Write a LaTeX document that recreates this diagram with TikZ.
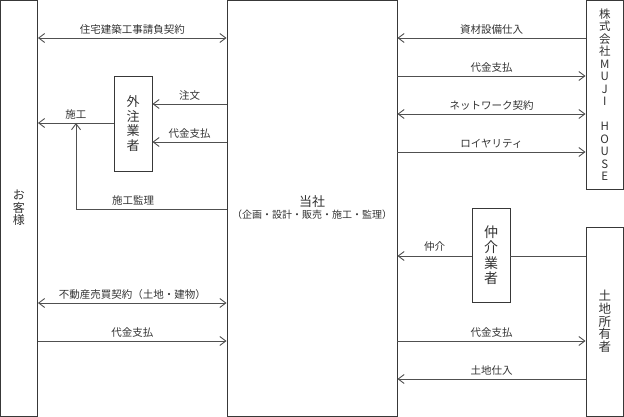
\documentclass[tikz,border=0pt]{standalone}
\usepackage{fontspec}
\setmainfont{Noto Sans CJK JP}
\usetikzlibrary{arrows.meta}
\definecolor{ln}{HTML}{505050}
\definecolor{bx}{HTML}{383838}
\definecolor{tx}{HTML}{333333}
\tikzset{
  x=1pt,y=-1pt,
  box/.style={draw=bx,line width=0.9pt,rectangle,inner sep=0pt,align=center,text=tx},
  arr/.style={draw=ln,line width=0.9pt,-{Straight Barb[length=6pt,width=9pt,line width=0.9pt]}},
  dbl/.style={draw=ln,line width=0.9pt,{Straight Barb[length=6pt,width=9pt,line width=0.9pt]}-{Straight Barb[length=6pt,width=9pt,line width=0.9pt]}},
  pln/.style={draw=ln,line width=0.9pt},
  lab/.style={text=tx,font=\fontsize{10.5}{12}\selectfont,inner sep=1pt},
}
\begin{document}
\begin{tikzpicture}
\useasboundingbox (0,0) rectangle (624,417);
% boxes
\node[box,minimum width=37.5pt,minimum height=416pt,font=\fontsize{12}{12.5}\selectfont] (cust) at (18.75,208) {お\\客\\様};
\node[box,minimum width=170pt,minimum height=416pt] (co) at (312,208) {{\fontsize{13}{17}\selectfont 当社}\\{\fontsize{10}{12}\selectfont （企画・設計・販売・施工・監理）}};
\node[box,minimum width=37.5pt,minimum height=189pt,font=\fontsize{11.5}{12.5}\selectfont] (muji) at (604.75,94.5) {株\\式\\会\\社\\M\\U\\J\\I\\\phantom{H}\\H\\O\\U\\S\\E};
\node[box,minimum width=37.5pt,minimum height=189pt,font=\fontsize{12.5}{12.7}\selectfont] (land) at (604.75,321.5) {土\\地\\所\\有\\者};
\node[box,minimum width=38pt,minimum height=95pt,font=\fontsize{13}{14.5}\selectfont] (sub) at (133,123.5) {外\\注\\業\\者};
\node[box,minimum width=38pt,minimum height=94pt,font=\fontsize{14}{15.5}\selectfont] (agent) at (491,255) {仲\\介\\業\\者};
% left side
\draw[dbl] (cust.east |- 0,38) -- node[lab,above=2pt]{住宅建築工事請負契約} (co.west |- 0,38);
\draw[arr] (co.west |- 0,104) -- node[lab,above=2pt]{注文} (sub.east |- 0,104);
\draw[arr] (co.west |- 0,142) -- node[lab,above=2pt]{代金支払} (sub.east |- 0,142);
\draw[arr] (sub.west |- 0,123) -- node[lab,above=2pt]{施工} (cust.east |- 0,123);
\coordinate (kj) at (76,123);
\draw[arr] (co.west |- 0,209) -| node[lab,above=2pt,pos=0.31]{施工監理} (kj);
\draw[dbl] (cust.east |- 0,303) -- node[lab,above=2pt]{不動産売買契約（土地・建物）} (co.west |- 0,303);
\draw[arr] (cust.east |- 0,341) -- node[lab,above=2pt]{代金支払} (co.west |- 0,341);
% right side
\draw[arr] (muji.west |- 0,38) -- node[lab,above=2pt]{資材設備仕入} (co.east |- 0,38);
\draw[arr] (co.east |- 0,76) -- node[lab,above=2pt]{代金支払} (muji.west |- 0,76);
\draw[dbl] (co.east |- 0,114) -- node[lab,above=2pt]{ネットワーク契約} (muji.west |- 0,114);
\draw[arr] (co.east |- 0,152) -- node[lab,above=2pt]{ロイヤリティ} (muji.west |- 0,152);
\draw[pln] (land.west |- 0,256) -- (agent.east |- 0,256);
\draw[arr] (agent.west |- 0,256) -- node[lab,above=3pt]{仲介} (co.east |- 0,256);
\draw[arr] (co.east |- 0,341) -- node[lab,above=2pt]{代金支払} (land.west |- 0,341);
\draw[arr] (land.west |- 0,379) -- node[lab,above=2pt]{土地仕入} (co.east |- 0,379);
\end{tikzpicture}
\end{document}
